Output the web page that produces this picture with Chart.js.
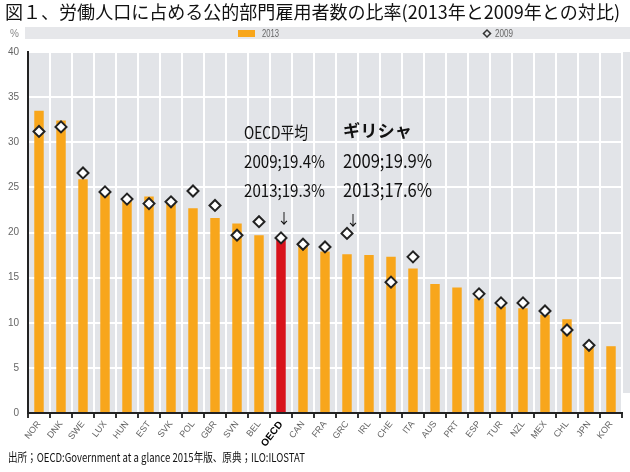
<!DOCTYPE html>
<html lang="ja">
<head>
<meta charset="UTF-8">
<title>労働人口に占める公的部門雇用者数の比率</title>
<style>
  body { margin: 0; background: #fff; }
  #chart { display: block; }
</style>
</head>
<body>
<canvas id="chart" width="630" height="472"></canvas>
<script src="https://cdn.jsdelivr.net/npm/chart.js@4.4.1/dist/chart.umd.min.js"></script>
<script>
var countries = ["NOR","DNK","SWE","LUX","HUN","EST","SVK","POL","GBR","SVN","BEL","OECD","CAN",
  "FRA","GRC","IRL","CHE","ITA","AUS","PRT","ESP","TUR","NZL","MEX","CHL","JPN","KOR"];
var share2013 = [33.5,32.4,25.9,24.5,23.7,24.0,23.6,22.7,21.6,21.0,19.7,19.3,18.6,
  17.9,17.6,17.5,17.3,16.0,14.3,13.9,12.7,11.8,11.6,10.9,10.4,7.3,7.4];
var share2009 = [31.2,31.7,26.6,24.5,23.7,23.2,23.4,24.6,23.0,19.7,21.2,19.4,18.7,
  18.4,19.9,null,14.5,17.3,null,null,13.2,12.2,12.2,11.3,9.2,7.5,null];
var seriesNames = ["2013", "2009"];

var orange = "#f8a61b";
var red = "#d8121c";
var plotGray = "#e2e4e8";
var fontJp = '"Noto Sans CJK JP", "Noto Sans", sans-serif';

// draw text squeezed (or stretched) to a target width
function fitText(ctx, text, x, y, w, font) {
  ctx.save();
  ctx.font = font;
  var m = ctx.measureText(text).width;
  ctx.translate(x, y);
  ctx.scale(w / m, 1);
  ctx.fillText(text, 0, 0);
  ctx.restore();
}

var decor = {
  id: "decor",
  beforeDraw: function (chart) {
    var ctx = chart.ctx, a = chart.chartArea;
    ctx.save();
    ctx.fillStyle = "#fff";
    ctx.fillRect(0, 0, chart.width, chart.height);
    ctx.fillStyle = plotGray;
    ctx.fillRect(a.left, a.top, a.right - a.left, a.bottom - a.top);
    ctx.fillRect(a.right, a.top, chart.width - a.right, a.bottom - a.top - 20);
    // legend band
    ctx.fillStyle = "#e6e7ea";
    ctx.fillRect(25, 27, chart.width - 25, 12);
    ctx.restore();
  },
  afterDraw: function (chart) {
    var ctx = chart.ctx, xs = chart.scales.x, ys = chart.scales.y;
    ctx.save();
    ctx.fillStyle = "#111";
    ctx.textBaseline = "alphabetic";
    fitText(ctx, "図１、労働人口に占める公的部門雇用者数の比率(2013年と2009年との対比)", 5, 19, 615, "18px " + fontJp);

    // legend
    ctx.fillStyle = "#888";
    ctx.font = "10px 'Liberation Sans', sans-serif";
    ctx.fillText("%", 10, 37);
    ctx.fillStyle = orange;
    ctx.fillRect(238, 30, 17, 7);
    ctx.fillStyle = "#666";
    fitText(ctx, seriesNames[0], 262, 37, 17, "10px 'Liberation Sans', sans-serif");
    fitText(ctx, seriesNames[1], 495, 37, 18, "10px 'Liberation Sans', sans-serif");
    ctx.save();
    ctx.translate(487, 33.5);
    ctx.rotate(Math.PI / 4);
    ctx.strokeStyle = "#333";
    ctx.lineWidth = 1.5;
    ctx.strokeRect(-2.5, -2.5, 5, 5);
    ctx.restore();

    // annotations
    ctx.fillStyle = "#111";
    ctx.textBaseline = "middle";
    var oi = countries.indexOf("OECD"), gi = countries.indexOf("GRC");
    var ox = xs.getPixelForValue(oi) - 37;
    fitText(ctx, "OECD平均", ox, ys.getPixelForValue(31.1), 64, "17px " + fontJp);
    fitText(ctx, "2009;19.4%", ox, ys.getPixelForValue(27.9), 81, "17px " + fontJp);
    fitText(ctx, "2013;19.3%", ox, ys.getPixelForValue(24.7), 81, "17px " + fontJp);
    ctx.font = "14px " + fontJp;
    ctx.fillText("↓", xs.getPixelForValue(oi) - 4, ys.getPixelForValue(21.6));
    var gx = xs.getPixelForValue(gi) - 4;
    fitText(ctx, "ギリシャ", gx, ys.getPixelForValue(31.3), 69, "bold 17px " + fontJp);
    fitText(ctx, "2009;19.9%", gx, ys.getPixelForValue(27.9), 89, "19px " + fontJp);
    fitText(ctx, "2013;17.6%", gx, ys.getPixelForValue(24.7), 89, "19px " + fontJp);
    ctx.font = "14px " + fontJp;
    ctx.fillText("↓", xs.getPixelForValue(gi) - 1, ys.getPixelForValue(21.4));

    // source
    ctx.fillStyle = "#111";
    ctx.textBaseline = "alphabetic";
    fitText(ctx, "出所；OECD:Government at a glance 2015年版、原典；ILO:ILOSTAT", 8, 462, 297, "12px " + fontJp);
    ctx.restore();
  }
};

new Chart(document.getElementById("chart"), {
  type: "bar",
  data: {
    labels: countries,
    datasets: [{
      label: seriesNames[0],
      data: share2013,
      backgroundColor: countries.map(function (c) { return c === "OECD" ? red : orange; }),
      barPercentage: 0.43,
      categoryPercentage: 1,
      order: 2
    }, {
      type: "line",
      label: seriesNames[1],
      data: share2009,
      showLine: false,
      pointStyle: "rectRot",
      pointRadius: 5.5,
      pointBorderWidth: 2,
      pointBackgroundColor: "#fff",
      pointBorderColor: "#222",
      order: 1
    }]
  },
  options: {
    responsive: false,
    animation: false,
    devicePixelRatio: 1,
    layout: { padding: { left: 0, right: 8, top: 52, bottom: 0 } },
    plugins: { legend: { display: false }, title: { display: false }, tooltip: { enabled: false } },
    scales: {
      x: {
        afterFit: function (s) { s.height = 59; },
        grid: { color: "#fff", lineWidth: 2, tickColor: "#333", tickLength: 5, offset: true },
        border: { color: "#222", width: 2 },
        ticks: {
          minRotation: 52, maxRotation: 52, padding: 1, autoSkip: false,
          color: function (c) { return countries[c.index] === "OECD" ? "#000" : "#666"; },
          font: function (c) {
            return countries[c.index] === "OECD"
              ? { family: "'Liberation Sans', sans-serif", size: 10, weight: "bold" }
              : { family: "'Liberation Sans', sans-serif", size: 9 };
          }
        }
      },
      y: {
        min: 0, max: 40,
        afterFit: function (s) { s.width = 28; },
        grid: { color: "#fff", lineWidth: 2, drawTicks: false },
        border: { color: "#222", width: 2 },
        ticks: { stepSize: 5, padding: 9, color: "#666", font: { family: "'Liberation Sans', sans-serif", size: 10 } }
      }
    }
  },
  plugins: [decor]
});
</script>
</body>
</html>
